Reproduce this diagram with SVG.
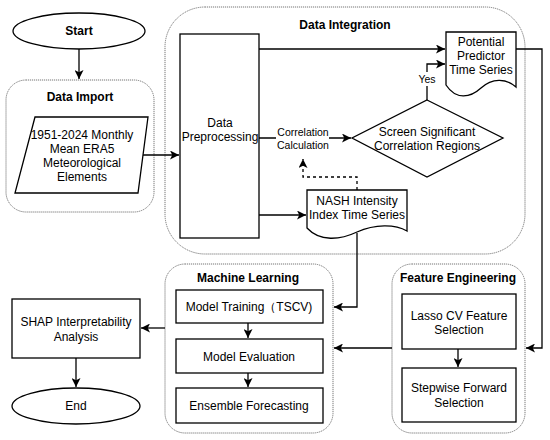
<svg xmlns="http://www.w3.org/2000/svg" width="550" height="440" viewBox="0 0 550 440">
<style>
text{font-family:"Liberation Sans",Arial,sans-serif;font-size:12px;fill:#000;text-anchor:middle;dominant-baseline:central}
.b{font-weight:bold}
.s{font-size:10.5px}
.grp{fill:none;stroke:#777;stroke-width:1;stroke-dasharray:1.2,0.8}
.box{fill:#fff;stroke:#000;stroke-width:1.3}
.ln{fill:none;stroke:#000;stroke-width:1.3}
.dash{fill:none;stroke:#000;stroke-width:1.3;stroke-dasharray:3,3}
</style>
<defs>
<marker id="ah" viewBox="0 0 10 10" refX="10" refY="5" markerWidth="9" markerHeight="9" markerUnits="userSpaceOnUse" orient="auto">
<path d="M0,0 L10,5 L0,10 L2.5,5 Z" fill="#000"/>
</marker>
</defs>
<rect width="550" height="440" fill="#fff"/>

<g id="groups">
<rect id="g-import" class="grp" x="6" y="80" width="148" height="132" rx="20"/>
<rect id="g-integration" class="grp" x="165" y="7" width="360" height="247" rx="40"/>
<rect id="g-ml" class="grp" x="165" y="264" width="168" height="169" rx="20"/>
<rect id="g-fe" class="grp" x="392" y="264" width="133" height="169" rx="20"/>
<text class="b" x="80" y="97">Data Import</text>
<text class="b" x="345" y="25">Data Integration</text>
<text class="b" x="248" y="278">Machine Learning</text>
<text class="b" x="458" y="278">Feature Engineering</text>
</g>

<g id="connectors">
<path class="ln" d="M79,49 V79" marker-end="url(#ah)"/>
<path class="ln" d="M138,155 H179" marker-end="url(#ah)"/>
<path class="ln" d="M259,49 H445" marker-end="url(#ah)"/>
<path class="ln" d="M259,138 H351" marker-end="url(#ah)"/>
<rect x="276" y="125" width="53" height="26" fill="#fff"/>
<path class="ln" d="M427,100 V64 H445" marker-end="url(#ah)"/>
<rect x="414" y="72" width="26" height="14" fill="#fff"/>
<path class="ln" d="M259,215 H306" marker-end="url(#ah)"/>
<path class="dash" d="M357,190 V177 H303 V159" marker-end="url(#ah)"/>
<path class="ln" d="M357,233 V307 H334" marker-end="url(#ah)"/>
<path class="ln" d="M516,49 H542 V348 H526" marker-end="url(#ah)"/>
<path class="ln" d="M392,348 H334" marker-end="url(#ah)"/>
<path class="ln" d="M165,328 H141" marker-end="url(#ah)"/>
<path class="ln" d="M76,358 V387" marker-end="url(#ah)"/>
<path class="ln" d="M248,323 V338" marker-end="url(#ah)"/>
<path class="ln" d="M248,373 V387" marker-end="url(#ah)"/>
<path class="ln" d="M458,349 V367" marker-end="url(#ah)"/>
<text class="s" x="303" y="132">Correlation</text>
<text class="s" x="303" y="145">Calculation</text>
<text class="s" x="427" y="79">Yes</text>
</g>

<g id="start">
<ellipse class="box" cx="79" cy="31" rx="66" ry="18"/>
<text class="b" x="79" y="31">Start</text>
</g>

<g id="era5">
<path class="box" d="M35,117 H148 L138,193 H15 Z"/>
<text x="82" y="135">1951-2024 Monthly</text>
<text x="82" y="149">Mean ERA5</text>
<text x="82" y="163">Meteorological</text>
<text x="82" y="177">Elements</text>
</g>

<g id="preprocessing">
<rect class="box" x="180" y="34" width="79" height="204"/>
<text x="220" y="123">Data</text>
<text x="220" y="137">Preprocessing</text>
</g>

<g id="predictor">
<path class="box" d="M446,32 H516 V87 C506,78 492,78 481,88 C470,98 456,100 446,85 Z"/>
<text x="481" y="42">Potential</text>
<text x="481" y="56">Predictor</text>
<text x="481" y="70">Time Series</text>
</g>

<g id="screen">
<path class="box" d="M427,100 L503,138 L427,177 L352,138 Z"/>
<text x="427" y="132">Screen Significant</text>
<text x="427" y="146">Correlation Regions</text>
</g>

<g id="nash">
<path class="box" d="M307,190 H407 V231 C395,224 375,224 357,232 C340,240 320,242 307,228 Z"/>
<text x="357" y="201">NASH Intensity</text>
<text x="357" y="215">Index Time Series</text>
</g>

<g id="training">
<rect class="box" x="176" y="290" width="147" height="33"/>
<text x="249" y="307">Model Training（TSCV)</text>
</g>

<g id="evaluation">
<rect class="box" x="176" y="339" width="147" height="34"/>
<text x="249" y="357">Model Evaluation</text>
</g>

<g id="ensemble">
<rect class="box" x="176" y="388" width="147" height="35"/>
<text x="249" y="406">Ensemble Forecasting</text>
</g>

<g id="lasso">
<rect class="box" x="402" y="294" width="114" height="55"/>
<text x="459" y="316">Lasso CV Feature</text>
<text x="459" y="330">Selection</text>
</g>

<g id="stepwise">
<rect class="box" x="402" y="368" width="114" height="54"/>
<text x="459" y="388">Stepwise Forward</text>
<text x="459" y="403">Selection</text>
</g>

<g id="shap">
<rect class="box" x="12" y="299" width="128" height="59"/>
<text x="76" y="322">SHAP Interpretability</text>
<text x="76" y="337">Analysis</text>
</g>

<g id="end">
<ellipse class="box" cx="76" cy="406" rx="64" ry="18"/>
<text x="76" y="406">End</text>
</g>
</svg>
